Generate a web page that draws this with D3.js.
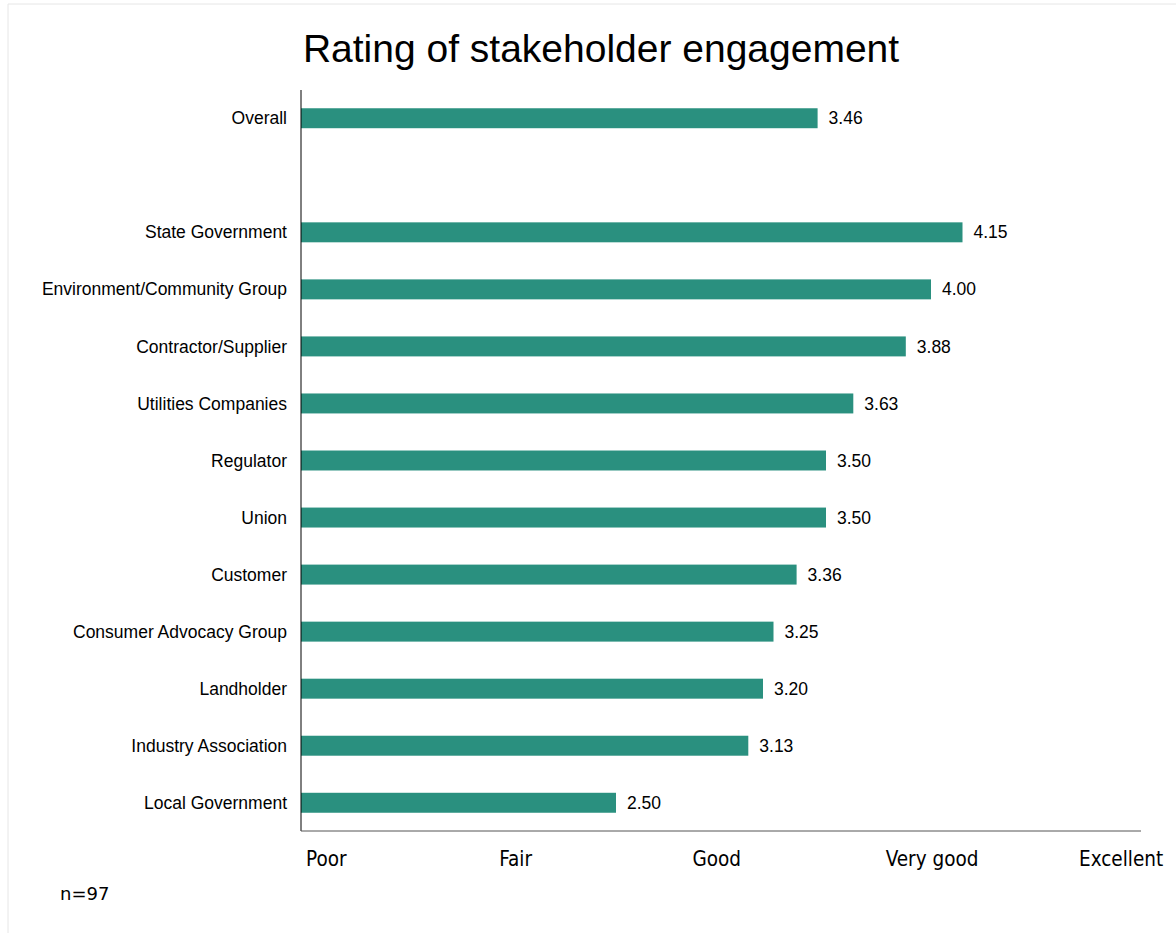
<!DOCTYPE html>
<html>
<head>
<meta charset="utf-8">
<script src="https://cdn.jsdelivr.net/npm/d3@7"></script>
<style>
  body { margin: 0; background: #fff; }
</style>
</head>
<body>
<svg></svg>
<script>
const width = 1176;
const height = 933;

// categories top to bottom, "" is the empty gap row under Overall
const categories = ["Overall", "", "State Government", "Environment/Community Group",
  "Contractor/Supplier", "Utilities Companies", "Regulator", "Union", "Customer",
  "Consumer Advocacy Group", "Landholder", "Industry Association", "Local Government"];
const ratings = [3.46, null, 4.15, 4.00, 3.88, 3.63, 3.50, 3.50, 3.36, 3.25, 3.20, 3.13, 2.50];
const tickLabels = ["Poor", "Fair", "Good", "Very good", "Excellent"];
const sampleNote = "n=97";

const plotLeft = 301, plotRight = 1141, plotTop = 90, plotBottom = 831;

const svg = d3.select("svg")
  .attr("width", width)
  .attr("height", height);

// faint frame
svg.append("path")
  .attr("d", `M8,${height} V4 H${width}`)
  .attr("fill", "none")
  .attr("stroke", "#e6e6e6");

const xScale = d3.scaleLinear()
  .domain([1, 5])
  .range([plotLeft, plotRight]);

const yScale = d3.scaleBand()
  .domain(categories.map((d, i) => i))
  .range([plotTop, plotBottom])
  .paddingInner(0.65)
  .paddingOuter(0.32);

svg.append("text")
  .attr("x", 601)
  .attr("y", 62)
  .attr("text-anchor", "middle")
  .style("font-family", "'Liberation Sans', Arial, sans-serif")
  .style("font-size", "39px")
  .text("Rating of stakeholder engagement");

const rows = categories.map((c, i) => ({ name: c, value: ratings[i], i: i }));

svg.append("g")
  .selectAll("rect")
  .data(rows.filter(d => d.value != null))
  .enter()
  .append("rect")
  .attr("x", xScale(1))
  .attr("y", d => yScale(d.i))
  .attr("width", d => xScale(d.value) - xScale(1))
  .attr("height", yScale.bandwidth())
  .attr("fill", "#2a907f");

svg.append("g")
  .selectAll("text")
  .data(rows.filter(d => d.value != null))
  .enter()
  .append("text")
  .attr("x", d => xScale(d.value) + 11)
  .attr("y", d => yScale(d.i) + yScale.bandwidth() / 2)
  .attr("dy", "0.35em")
  .style("font-family", "'Liberation Sans', Arial, sans-serif")
  .style("font-size", "17.5px")
  .text(d => d3.format(".2f")(d.value));

svg.append("g")
  .selectAll("text")
  .data(rows)
  .enter()
  .append("text")
  .attr("x", plotLeft - 14)
  .attr("y", d => yScale(d.i) + yScale.bandwidth() / 2)
  .attr("dy", "0.35em")
  .attr("text-anchor", "end")
  .style("font-family", "'Liberation Sans', Arial, sans-serif")
  .style("font-size", "17.5px")
  .text(d => d.name);

// axes lines
svg.append("line")
  .attr("x1", plotLeft).attr("x2", plotLeft)
  .attr("y1", plotTop).attr("y2", plotBottom)
  .attr("stroke", "#000");

svg.append("line")
  .attr("x1", plotLeft).attr("x2", plotRight)
  .attr("y1", plotBottom).attr("y2", plotBottom)
  .attr("stroke", "#555");

// rating labels along the bottom
const labelScale = d3.scalePoint()
  .domain(tickLabels)
  .range([306, 1079]);

svg.append("g")
  .selectAll("text")
  .data(tickLabels)
  .enter()
  .append("text")
  .attr("x", d => labelScale(d))
  .attr("y", 866)
  .style("font-family", "'DejaVu Sans Condensed', 'DejaVu Sans', sans-serif")
  .style("font-stretch", "condensed")
  .style("font-size", "20.5px")
  .text(d => d);

svg.append("text")
  .attr("x", 60)
  .attr("y", 900)
  .style("font-family", "'DejaVu Sans', Verdana, sans-serif")
  .style("font-size", "18px")
  .text(sampleNote);
</script>
</body>
</html>
